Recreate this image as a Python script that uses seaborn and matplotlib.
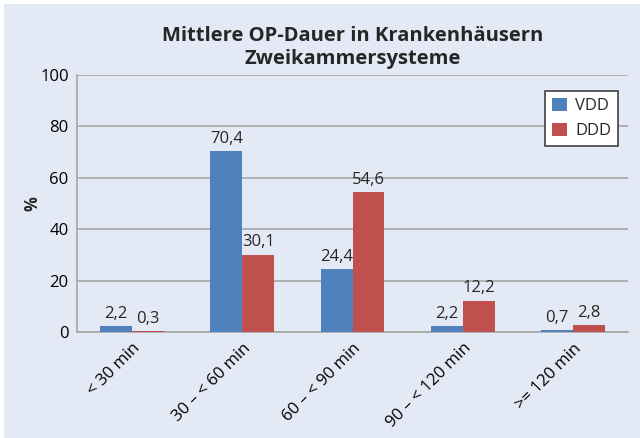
import pandas as pd
import seaborn as sns
import matplotlib.pyplot as plt
from matplotlib.patches import Rectangle

# Data
categories = ["< 30 min", "30 – < 60 min", "60 – < 90 min", "90 – < 120 min", ">= 120 min"]
vdd = [2.2, 70.4, 24.4, 2.2, 0.7]
ddd = [0.3, 30.1, 54.6, 12.2, 2.8]
series = ["VDD", "DDD"]
yticks = [0, 20, 40, 60, 80, 100]

df = pd.DataFrame({
    "Kategorie": categories * 2,
    "Wert": vdd + ddd,
    "Serie": [series[0]] * len(categories) + [series[1]] * len(categories),
})

bg = "#E4EAF5"
sns.set_style("white")
plt.rcParams["font.family"] = ["Open Sans", "DejaVu Sans"]

fig = plt.figure(figsize=(6.4, 4.38), dpi=100)
fig.patch.set_facecolor("white")
fig.patches.append(Rectangle((4 / 640, 0), 1, 1 - 4 / 438, transform=fig.transFigure,
                             facecolor=bg, edgecolor="none", zorder=-10))
ax = fig.add_axes([77 / 640, 1 - 332 / 438, (628 - 77) / 640, (332 - 75) / 438])
ax.set_facecolor(bg)

sns.barplot(data=df, x="Kategorie", y="Wert", hue="Serie", palette=["#4F81BD", "#C0504D"],
            width=0.58, gap=0, saturation=1, linewidth=0, edgecolor="none", ax=ax, zorder=3)

for cont in ax.containers:
    ax.bar_label(cont, labels=[f"{v:.1f}".replace(".", ",") for v in cont.datavalues],
                 padding=3, fontsize=12)

ax.set_ylim(0, 100)
ax.set_yticks(yticks)
ax.set_xlim(-0.5, len(categories) - 0.5)
ax.yaxis.grid(True, color="#A6A6A6", linewidth=1.2, zorder=0)
ax.set_axisbelow(True)
for s in ["top", "right"]:
    ax.spines[s].set_visible(False)
for s in ["left", "bottom"]:
    ax.spines[s].set_color("#A6A6A6")
    ax.spines[s].set_linewidth(1.2)
ax.tick_params(length=0, labelsize=12, colors="black", pad=6)
plt.setp(ax.get_xticklabels(), rotation=45, ha="right", rotation_mode="anchor")

ax.set_xlabel("")
ax.set_ylabel("%", fontsize=12, fontweight="bold", labelpad=-1)
ax.set_title("Mittlere OP-Dauer in Krankenhäusern\nZweikammersysteme",
             fontsize=14.5, fontweight="bold", pad=8, linespacing=1.2)

leg = ax.legend(loc="upper right", bbox_to_anchor=(0.982, 0.938), borderaxespad=0,
                fontsize=12, frameon=True, fancybox=False, edgecolor="#404040", framealpha=1,
                handlelength=0.9, handleheight=0.9, handletextpad=0.5,
                borderpad=0.4, labelspacing=0.5)
leg.get_frame().set_linewidth(1.2)

fig.savefig("out.png", dpi=100, facecolor=fig.get_facecolor())
